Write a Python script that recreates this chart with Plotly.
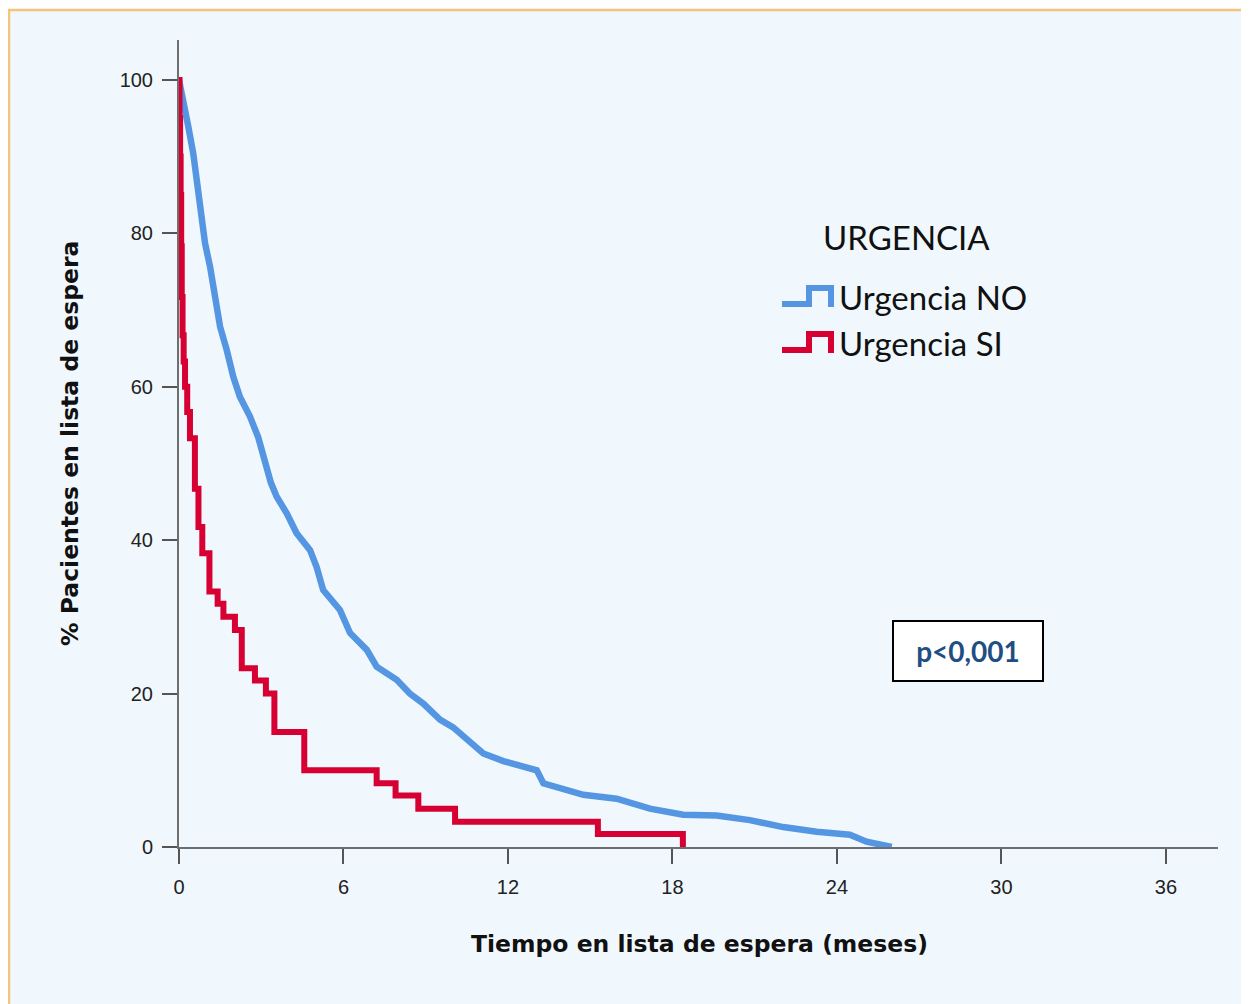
import plotly.graph_objects as go

# Kaplan-Meier: % pacientes en lista de espera vs meses
months_no = [0, 0.16, 0.34, 0.52, 0.64, 0.83, 0.95, 1.13, 1.31, 1.50, 1.74, 1.98, 2.22, 2.59,
             2.89, 3.14, 3.35, 3.56, 3.93, 4.29, 4.78, 5.02, 5.26, 5.87, 6.24, 6.85, 7.21,
             7.94, 8.42, 8.91, 9.52, 10.0, 10.37, 10.70, 11.10, 11.83, 12.32, 13.05, 13.29,
             14.14, 14.75, 15.96, 17.18, 18.39, 19.61, 20.82, 22.04, 23.26, 24.47, 25.08,
             25.81, 26.0]
pct_no = [100, 97.4, 93.9, 90.4, 87.4, 83.1, 78.7, 75.7, 72.2, 67.8, 64.8, 61.3, 58.7, 56.1,
          53.4, 50.2, 47.5, 45.7, 43.5, 40.9, 38.7, 36.5, 33.5, 30.9, 27.9, 25.7, 23.5,
          21.8, 20.0, 18.7, 16.6, 15.6, 14.4, 13.3, 12.2, 11.2, 10.7, 10.0, 8.3,
          7.4, 6.8, 6.3, 5.0, 4.2, 4.1, 3.5, 2.6, 2.0, 1.6, 0.7,
          0.3, 0]

months_si = [0, 0.02, 0.04, 0.06, 0.08, 0.10, 0.13, 0.17, 0.22, 0.30, 0.40, 0.58, 0.71, 0.85,
             1.11, 1.41, 1.62, 2.04, 2.29, 2.77, 3.17, 3.48, 4.57, 7.21, 7.90, 8.73, 10.07,
             15.28, 18.38]
pct_si = [100, 95, 90, 85, 78.3, 71.7, 66.7, 63.3, 60, 56.7, 53.3, 46.7, 41.7, 38.3,
          33.3, 31.7, 30.0, 28.3, 23.3, 21.7, 20.0, 15.0, 10.0, 8.3, 6.7, 5.0, 3.3,
          1.7, 0]

x_ticks = [0, 6, 12, 18, 24, 30, 36]
y_ticks = [0, 20, 40, 60, 80, 100]

BLUE = "#5596e3"
RED = "#d60032"

# page pixel -> paper coords (plot area on page: x 179..1218, y 40..847; page has 8px body margin)
def px(x):
    return (x - 179) / 1039

def py(y):
    return (847 - y) / 807

fig = go.Figure()
fig.add_trace(go.Scatter(x=months_no, y=pct_no, mode="lines", name="Urgencia NO",
                         line=dict(color=BLUE, width=6.5)))
fig.add_trace(go.Scatter(x=months_si, y=pct_si, mode="lines", name="Urgencia SI",
                         line=dict(color=RED, width=6, shape="hv")))

axis_style = dict(showgrid=False, zeroline=False, showline=True, linecolor="#6e6e6e", linewidth=2,
                  ticks="outside", ticklen=15, tickwidth=2, tickcolor="#555555",
                  tickfont=dict(family="Liberation Sans", size=20, color="#222222"))

fig.update_xaxes(range=[0, 37.9], tickvals=x_ticks, ticklabelstandoff=6, **axis_style)
fig.update_yaxes(range=[0, 105.2], tickvals=y_ticks, ticklabelstandoff=5, **axis_style)

shapes = [
    # panel background with orange top/left edge
    dict(type="rect", xref="paper", yref="paper", layer="below",
         x0=px(9), x1=px(1300), y0=py(1060), y1=py(10),
         fillcolor="#f0f8fe", line=dict(color="#f5c47c", width=2.5)),
    # legend step symbols
    dict(type="path", xref="paper", yref="paper",
         path=f"M {px(782)},{py(304)} L {px(809)},{py(304)} L {px(809)},{py(288)} "
              f"L {px(831)},{py(288)} L {px(831)},{py(307)}",
         line=dict(color=BLUE, width=6)),
    dict(type="path", xref="paper", yref="paper",
         path=f"M {px(782)},{py(350)} L {px(809)},{py(350)} L {px(809)},{py(334)} "
              f"L {px(831)},{py(334)} L {px(831)},{py(353)}",
         line=dict(color=RED, width=6)),
]

annotations = [
    dict(text="URGENCIA", x=px(906), y=py(237), font=dict(family="Lato", size=33, color="#111111")),
    dict(text="Urgencia NO", x=px(837), y=py(297), xanchor="left",
         font=dict(family="Lato", size=33, color="#111111")),
    dict(text="Urgencia SI", x=px(837), y=py(343), xanchor="left",
         font=dict(family="Lato", size=33, color="#111111")),
    dict(text="<b>p<0,001</b>", x=px(968), y=py(651), width=144, height=54, borderpad=2,
         bgcolor="white", bordercolor="black", borderwidth=2,
         font=dict(family="Lato", size=28, color="#1f4e82")),
    dict(text="<b>Tiempo en lista de espera (meses)</b>", x=px(699), y=py(944),
         font=dict(family="DejaVu Sans", size=23.5, color="#111111")),
    dict(text="<b>% Pacientes en lista de espera</b>", x=px(70), y=py(444), textangle=-90,
         font=dict(family="DejaVu Sans", size=23.5, color="#111111")),
]
for a in annotations:
    a.setdefault("xref", "paper")
    a.setdefault("yref", "paper")
    a.setdefault("xanchor", "center")
    a.setdefault("yanchor", "middle")
    a.setdefault("showarrow", False)

fig.update_layout(
    width=1241, height=996,
    margin=dict(l=171, r=31, t=32, b=157),
    paper_bgcolor="white", plot_bgcolor="rgba(0,0,0,0)",
    showlegend=False,
    shapes=shapes, annotations=annotations,
)

fig.write_html("out.html")
